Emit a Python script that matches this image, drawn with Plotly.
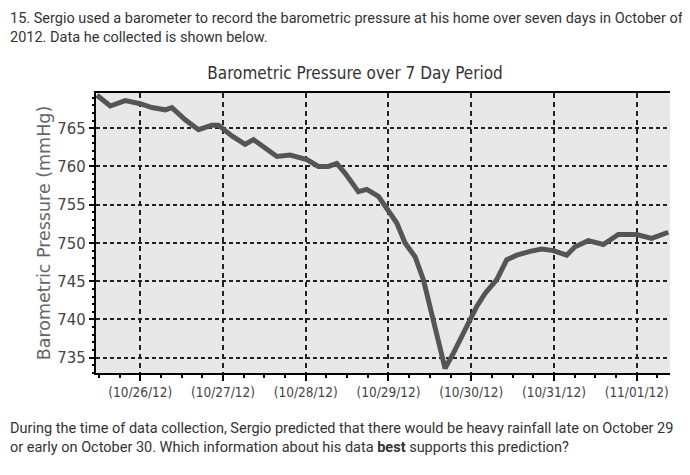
import pandas as pd
import plotly.graph_objects as go

# readings taken off the chart (time, mmHg)
times = [
    "2012-10-25 11:27", "2012-10-25 15:18", "2012-10-25 19:39", "2012-10-26 00:00",
    "2012-10-26 03:23", "2012-10-26 07:15", "2012-10-26 09:11", "2012-10-26 13:03",
    "2012-10-26 16:54", "2012-10-26 20:47", "2012-10-26 22:42", "2012-10-27 02:35",
    "2012-10-27 06:26", "2012-10-27 08:51", "2012-10-27 12:14", "2012-10-27 15:38",
    "2012-10-27 19:29", "2012-10-28 00:20", "2012-10-28 03:41", "2012-10-28 06:35",
    "2012-10-28 09:01", "2012-10-28 11:26", "2012-10-28 15:17", "2012-10-28 17:43",
    "2012-10-28 21:05", "2012-10-28 23:59", "2012-10-29 02:25", "2012-10-29 04:49",
    "2012-10-29 07:43", "2012-10-29 10:08", "2012-10-29 13:31", "2012-10-29 16:25",
    "2012-10-29 18:50", "2012-10-29 22:43", "2012-10-30 01:37", "2012-10-30 04:01",
    "2012-10-30 07:25", "2012-10-30 10:19", "2012-10-30 13:13", "2012-10-30 17:04",
    "2012-10-30 20:27", "2012-10-30 23:49", "2012-10-31 03:42", "2012-10-31 06:07",
    "2012-10-31 09:58", "2012-10-31 14:19", "2012-10-31 18:40", "2012-11-01 00:00",
    "2012-11-01 04:21", "2012-11-01 09:10",
]
pressure = [
    769.3, 767.9, 768.6, 768.2,
    767.7, 767.4, 767.7, 766.1,
    764.8, 765.4, 765.4, 764.0,
    762.9, 763.5, 762.4, 761.3,
    761.5, 760.9, 760.0, 760.0,
    760.4, 759.1, 756.7, 757.0,
    756.1, 754.1, 752.6, 750.0,
    748.2, 745.2, 738.6, 733.6,
    735.6, 739.1, 741.7, 743.4,
    745.2, 747.8, 748.4, 748.9,
    749.2, 749.0, 748.4, 749.5,
    750.3, 749.8, 751.1, 751.1,
    750.6, 751.4,
]
y_ticks = [735, 740, 745, 750, 755, 760, 765]

question_top = [
    "15. Sergio used a barometer to record the barometric pressure at his home over seven days in October of",
    "2012. Data he collected is shown below.",
]
question_bottom = [
    "During the time of data collection, Sergio predicted that there would be heavy rainfall late on October 29",
    "or early on October 30. Which information about his data <b>best</b> supports this prediction?",
]

narrow = "DejaVu Sans Condensed, Liberation Sans"

air = pd.DataFrame({"time": pd.to_datetime(times), "mmHg": pressure})

fig = go.Figure()
fig.add_trace(go.Scatter(x=air["time"], y=air["mmHg"], mode="lines",
                         line=dict(color="#555555", width=5), showlegend=False))

# the page body adds an 8px offset, so margins are 8px smaller than the picture
fig.update_layout(
    width=690, height=475,
    margin=dict(l=88, r=28, t=85, b=110),
    paper_bgcolor="white", plot_bgcolor="#e8e8e8",
    title=dict(text="Barometric Pressure over 7 Day Period", x=0.503, xanchor="center",
               y=1 - 65 / 475, yanchor="middle",
               font=dict(family=narrow, size=17, color="#333")),
    font=dict(family="Liberation Sans", color="#444"),
)

fig.update_xaxes(
    automargin=False,
    range=["2012-10-25 11:10", "2012-11-01 09:40"],
    tickvals=pd.date_range("2012-10-26", "2012-11-01", freq="D"),
    tickformat="(%m/%d/%y)",
    tickfont=dict(family=narrow, size=13.5, color="#444"),
    showline=True, linecolor="black", linewidth=2, mirror=True,
    ticks="outside", ticklen=6, tickcolor="black", tickwidth=1.5,
    minor=dict(dtick=6 * 3600 * 1000, ticks="outside", ticklen=3, tickcolor="black", showgrid=False),
    showgrid=True, gridcolor="#222", gridwidth=1.5, griddash="5px,4px",
    zeroline=False,
)
fig.update_yaxes(
    automargin=False,
    range=[733.0, 769.6],
    tickvals=y_ticks,
    tickfont=dict(family=narrow, size=16.5, color="#444"),
    title=dict(text="Barometric Pressure (mmHg)", standoff=2,
               font=dict(family="DejaVu Sans", size=17.5, color="#666")),
    showline=True, linecolor="black", linewidth=2,
    ticks="outside", ticklen=5, tickcolor="black", tickwidth=1.5,
    minor=dict(dtick=1, ticks="outside", ticklen=2, tickcolor="black", showgrid=False),
    showgrid=True, gridcolor="#222", gridwidth=1.5, griddash="4px,3px",
    zeroline=False,
)

# question text above and below the chart
x_left = (8 - 96) / 574
for text, py in zip(question_top + question_bottom, [18, 37, 428, 447]):
    fig.add_annotation(text=text, xref="paper", yref="paper",
                       x=x_left, y=(373 - py) / 280, xanchor="left", yanchor="middle",
                       showarrow=False, align="left",
                       font=dict(family="Roboto", size=14.5, color="#333"))

fig.write_html("out.html")
